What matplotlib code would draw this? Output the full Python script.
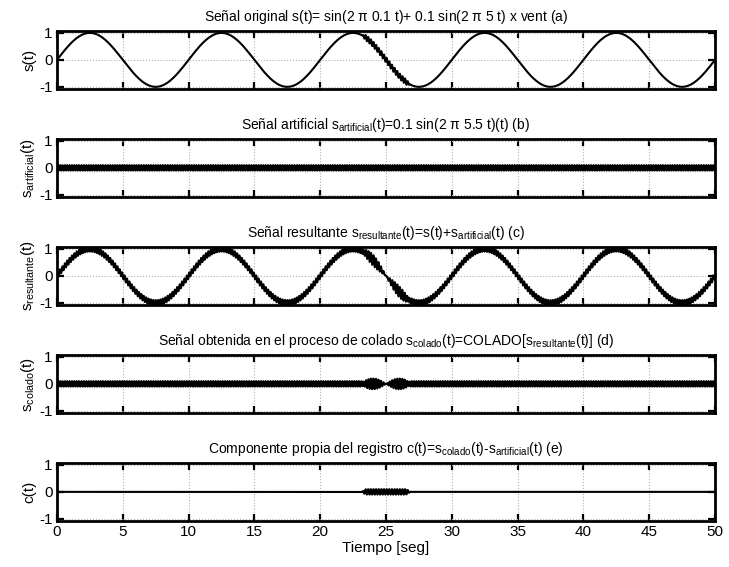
"""Five stacked panels: original, artificial, resulting, 'colado' and own component signals."""
import matplotlib
matplotlib.use('Agg')
import matplotlib.pyplot as plt
import numpy as np

# ---------------------------------------------------------------------------
# Signal parameters (read from the panel titles / picture)
# ---------------------------------------------------------------------------
T_END = 50.0
FS = 1000.0                    # samples per second
F_BASE, A_BASE = 0.1, 1.0      # sin(2 pi 0.1 t)
F_VENT, A_VENT = 5.0, 0.1      # 0.1 sin(2 pi 5 t) x vent
F_ART, A_ART = 5.5, 0.1        # 0.1 sin(2 pi 5.5 t)
VENT_START, VENT_END = 23.5, 26.5
VENT_TAPER = 0.4

titles = [
    r'Señal original s(t)= sin(2 $\pi$ 0.1 t)+ 0.1 sin(2 $\pi$ 5 t) x vent (a)',
    r'Señal artificial s$_{\mathrm{artificial}}$(t)=0.1 sin(2 $\pi$ 5.5 t)(t) (b)',
    r'Señal resultante s$_{\mathrm{resultante}}$(t)=s(t)+s$_{\mathrm{artificial}}$(t) (c)',
    r'Señal obtenida en el proceso de colado s$_{\mathrm{colado}}$(t)=COLADO[s$_{\mathrm{resultante}}$(t)] (d)',
    r'Componente propia del registro c(t)=s$_{\mathrm{colado}}$(t)-s$_{\mathrm{artificial}}$(t) (e)',
]
ylabels = [
    's(t)',
    r's$_{\mathrm{artificial}}$(t)',
    r's$_{\mathrm{resultante}}$(t)',
    r's$_{\mathrm{colado}}$(t)',
    'c(t)',
]
xticks = np.arange(0, 51, 5)
yticks = [-1, 0, 1]

plt.rcParams.update({
    'font.family': ['Liberation Sans', 'DejaVu Sans'],
    'mathtext.fontset': 'custom',
    'mathtext.rm': 'Liberation Sans',
    'mathtext.it': 'Liberation Sans',
    'font.size': 10,
    'axes.unicode_minus': False,
})


def window(t):
    w = np.zeros_like(t)
    inside = (t >= VENT_START) & (t <= VENT_END)
    w[inside] = 1.0
    up = (t >= VENT_START - VENT_TAPER) & (t < VENT_START)
    w[up] = 0.5 - 0.5 * np.cos(np.pi * (t[up] - VENT_START + VENT_TAPER) / VENT_TAPER)
    dn = (t > VENT_END) & (t <= VENT_END + VENT_TAPER)
    w[dn] = 0.5 + 0.5 * np.cos(np.pi * (t[dn] - VENT_END) / VENT_TAPER)
    return w


t = np.arange(0, T_END + 1 / FS, 1 / FS)
vent_part = A_VENT * np.sin(2 * np.pi * F_VENT * t) * window(t)
s = A_BASE * np.sin(2 * np.pi * F_BASE * t) + vent_part
s_art = A_ART * np.sin(2 * np.pi * F_ART * t)
s_res = s + s_art
s_col = s_art + vent_part
c = s_col - s_art
series = [s, s_art, s_res, s_col, c]

fig = plt.figure(figsize=(7.29, 5.67), dpi=100)
W, H = 729.0, 567.0
left, right = 57, 715
tops = [31, 139, 247, 355, 463]
height = 58

for top, y, title, ylab in zip(tops, series, titles, ylabels):
    ax = fig.add_axes([left / W, 1 - (top + height) / H, (right - left) / W, height / H])
    ax.plot(t, y, color='black', linewidth=1.5)
    ax.set_xlim(0, 50)
    ax.set_ylim(-1.08, 1.07)
    ax.set_xticks(xticks)
    ax.set_yticks(yticks)
    ax.grid(True, color='#b0b0b0', linestyle=':', linewidth=0.8)
    ax.set_axisbelow(True)
    for sp in ax.spines.values():
        sp.set_linewidth(2.0)
    ax.tick_params(direction='in', length=5, width=1.6, top=True, right=True,
                   labelsize=11, pad=3)
    ax.set_title(title, fontsize=10, pad=7)
    ax.set_ylabel(ylab, fontsize=11, labelpad=2)
    if top != tops[-1]:
        ax.set_xticklabels([])
    else:
        ax.set_xlabel('Tiempo [seg]', fontsize=11, labelpad=1)

fig.savefig('out.png', dpi=100)
